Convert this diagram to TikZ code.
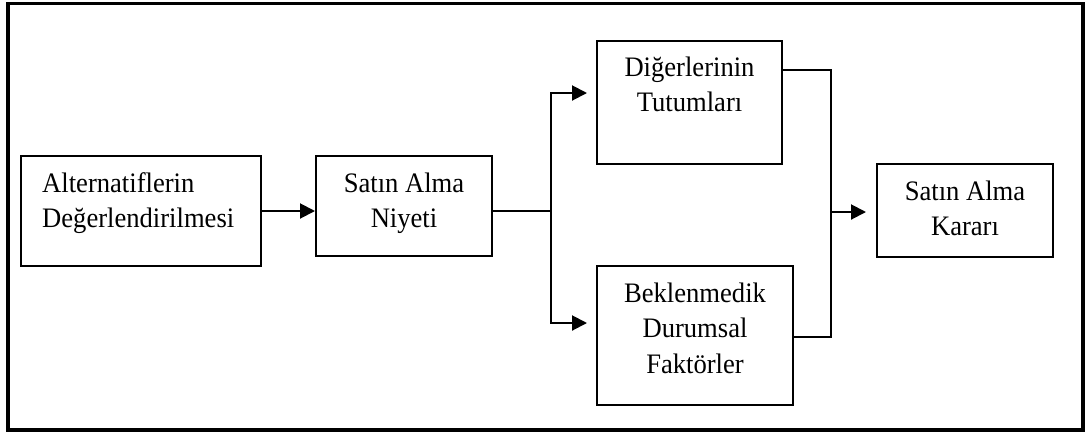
\documentclass[tikz,border=0pt]{standalone}
\usepackage{fontspec}
\setmainfont{Liberation Serif}
\usetikzlibrary{arrows.meta}
\newcommand{\tallword}[1]{\scalebox{1}[1.06]{#1}}
\begin{document}
\begin{tikzpicture}[x=1pt,y=-1pt,
  box/.style={draw=black, line width=2pt, inner sep=0pt, fill=white},
  txt/.style={anchor=base, inner sep=0pt, font=\fontsize{26.6}{36}\selectfont},
  link/.style={line width=2pt},
  arr/.style={link, -{Triangle[length=15pt,width=15pt]}}]
\useasboundingbox (0,0) rectangle (1087,432);
% outer frame
\draw[line width=3.5pt] (8,3.5) rectangle (1083,430);

% boxes
\node[box, minimum width=240pt, minimum height=110pt] (A) at (141,211) {};
\node[box, minimum width=176pt, minimum height=100pt] (B) at (404,206) {};
\node[box, minimum width=185pt, minimum height=123pt] (C) at (689.5,102.5) {};
\node[box, minimum width=196pt, minimum height=139pt] (D) at (695,335.5) {};
\node[box, minimum width=176pt, minimum height=93pt] (E) at (965,210.5) {};

% labels
\node[txt, anchor=base west] (a1) at (42,192) {\tallword{Alternatiflerin}};
\node[txt, anchor=base west] (a2) at (42,227) {\tallword{Değerlendirilmesi}};
\node[txt] (b1) at (404,192) {\tallword{Satın Alma}};
\node[txt] (b2) at (404,227) {\tallword{Niyeti}};
\node[txt] (c1) at (689.5,76) {\tallword{Diğerlerinin}};
\node[txt] (c2) at (689.5,111) {\tallword{Tutumları}};
\node[txt] (d1) at (695,302) {\tallword{Beklenmedik}};
\node[txt] (d2) at (695,337) {\tallword{Durumsal}};
\node[txt] (d3) at (695,373) {\tallword{Faktörler}};
\node[txt] (e1) at (965,200) {\tallword{Satın Alma}};
\node[txt] (e2) at (965,235) {\tallword{Kararı}};

% branch points
\coordinate (split) at (551,211);
\coordinate (up) at (551,93);
\coordinate (dn) at (551,323);
\coordinate (mtop) at (831,70);
\coordinate (mbot) at (831,337);
\coordinate (mid) at (831,212);

% connectors
\draw[arr] (A.east) -- (A.east -| B.west);
\draw[link] (B.east |- split) -- (split);
\draw[arr, shorten >=9pt] (split) -- (up) -- (up -| C.west);
\draw[arr, shorten >=9pt] (split) -- (dn) -- (dn -| D.west);
\draw[link] (C.east |- mtop) -- (mtop) -- (mbot) -- (D.east |- mbot);
\draw[arr, shorten >=10pt] (mid) -- (mid -| E.west);
\end{tikzpicture}
\end{document}
